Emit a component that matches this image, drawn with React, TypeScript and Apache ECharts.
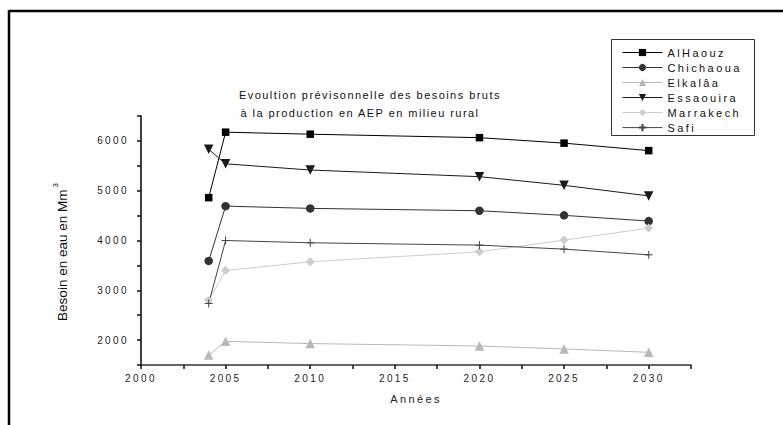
import React, { useEffect, useRef } from "react";
import * as echarts from "echarts";

const years = [2004, 2005, 2010, 2020, 2025, 2030];
const alHaouz = [4860, 6175, 6135, 6065, 5955, 5805];
const chichaoua = [3590, 4690, 4645, 4598, 4505, 4390];
const elkalaa = [1700, 1975, 1930, 1882, 1822, 1755];
const essaouira = [5830, 5540, 5415, 5282, 5108, 4895];
const marrakech = [2800, 3398, 3573, 3773, 4008, 4250];
const safi = [2735, 4000, 3954, 3907, 3827, 3712];

const seriesNames = ["AlHaouz", "Chichaoua", "Elkalâa", "Essaouira", "Marrakech", "Safi"];
const titleLines = ["Evoultion prévisonnelle des besoins bruts", " à la production en AEP en milieu rural"];
const xAxisName = "Années";
const yAxisName = "Besoin en eau en Mm";

const css = `
#chartbox text[style*="Arial"] { letter-spacing: 2.4px; }
#chartbox text[style*="Liberation Sans"] { letter-spacing: 1.45px; }
#chartbox text[style*="Arimo"] { letter-spacing: 0px; }
`;

const pairs = (vals: number[]) => years.map((y, i) => [y, vals[i]]);

export default function App() {
  const ref = useRef<HTMLDivElement>(null);
  useEffect(() => {
    if (!ref.current) return;
    const chart = echarts.init(ref.current, null, { renderer: "svg" });
    const mk = (
      name: string,
      vals: number[],
      color: string,
      symbol: string,
      size: number,
      extra: any = {}
    ) => ({
      name,
      type: "line",
      data: pairs(vals),
      symbol,
      symbolSize: size,
      lineStyle: { color, width: 1 },
      itemStyle: { color },
      ...extra,
    });
    chart.setOption({
      animation: false,
      textStyle: { fontFamily: "Arial" },
      grid: { left: 141, top: 116, width: 550, height: 249, containLabel: false },
      xAxis: {
        type: "value",
        min: 2000,
        max: 2032.5,
        interval: 2.5,
        name: xAxisName,
        nameLocation: "middle",
        nameGap: 28,
        nameTextStyle: { fontSize: 11, color: "#222", fontFamily: "Arial" },
        axisLine: { lineStyle: { color: "#333", width: 1.6 } },
        axisTick: { length: 4, lineStyle: { color: "#111", width: 1.5 } },
        splitLine: { show: false },
        axisLabel: {
          fontSize: 10,
          color: "#222",
          margin: 8,
          fontFamily: "Arial",
          formatter: (v: number) => (v % 5 === 0 ? String(v) : ""),
        },
      },
      yAxis: {
        type: "value",
        min: 1500,
        max: 6500,
        interval: 500,
        axisLine: { show: true, lineStyle: { color: "#111", width: 1.6 } },
        axisTick: { show: true, length: 4, lineStyle: { color: "#111", width: 1.5 } },
        splitLine: { show: false },
        axisLabel: {
          fontSize: 10,
          color: "#222",
          margin: 12,
          fontFamily: "Arial",
          formatter: (v: number) => (v % 1000 === 0 ? String(v) : ""),
        },
      },
      legend: {
        show: true,
        orient: "vertical",
        left: 622,
        top: 46.5,
        padding: 0,
        itemWidth: 40,
        itemHeight: 9,
        itemGap: 3,
        lineStyle: { width: 1 },
        textStyle: { fontSize: 11, color: "#111", fontFamily: "Arial", lineHeight: 12 },
        data: seriesNames,
      },
      graphic: [
        {
          type: "line",
          shape: { x1: 9, y1: 11, x2: 783, y2: 11 },
          style: { stroke: "#000", lineWidth: 2.5 },
        },
        {
          type: "line",
          shape: { x1: 9, y1: 10, x2: 9, y2: 425 },
          style: { stroke: "#000", lineWidth: 2.5 },
        },
        {
          type: "rect",
          shape: { x: 611.5, y: 39.5, width: 143, height: 96 },
          style: { fill: "#fff", stroke: "#333", lineWidth: 1 },
          z: -1,
        },
        {
          type: "text",
          x: 239,
          y: 95,
          style: {
            text: titleLines[0],
            fontSize: 11,
            fontFamily: "Liberation Sans",
            fill: "#111",
            align: "left",
            verticalAlign: "middle",
          },
        },
        {
          type: "text",
          x: 236,
          y: 113,
          style: {
            text: titleLines[1],
            fontSize: 11,
            fontFamily: "Liberation Sans",
            fill: "#111",
            align: "left",
            verticalAlign: "middle",
          },
        },
        {
          type: "text",
          x: 62,
          y: 252,
          rotation: Math.PI / 2,
          style: {
            text: yAxisName + "{sup|3}",
            fontSize: 13.5,
            fontFamily: "Arimo, Liberation Sans",
            fill: "#111",
            align: "center",
            verticalAlign: "middle",
            rich: {
              sup: {
                fontSize: 8,
                fontFamily: "Arimo, Liberation Sans",
                fill: "#111",
                verticalAlign: "top",
                padding: [0, 0, 14, 2],
              },
            },
          },
        },
      ],
      series: [
        mk(seriesNames[0], alHaouz, "#000", "rect", 7.5),
        mk(seriesNames[1], chichaoua, "#333", "circle", 8.5),
        mk(seriesNames[2], elkalaa, "#b8b8b8", "triangle", 9.5),
        mk(seriesNames[3], essaouira, "#1a1a1a", "triangle", 9.5, { symbolRotate: 180 }),
        mk(seriesNames[4], marrakech, "#cccccc", "diamond", 9),
        mk(seriesNames[5], safi, "#444", "path://M0,5L10,5M5,0L5,10", 8, {
          itemStyle: { color: "none", borderColor: "#444", borderWidth: 1 },
        }),
      ],
    });
    return () => chart.dispose();
  }, []);
  return (
    <>
      <style>{css}</style>
      <div
        id="chartbox"
        ref={ref}
        style={{ position: "absolute", left: 0, top: 0, width: 783, height: 425, background: "#fff" }}
      />
    </>
  );
}
